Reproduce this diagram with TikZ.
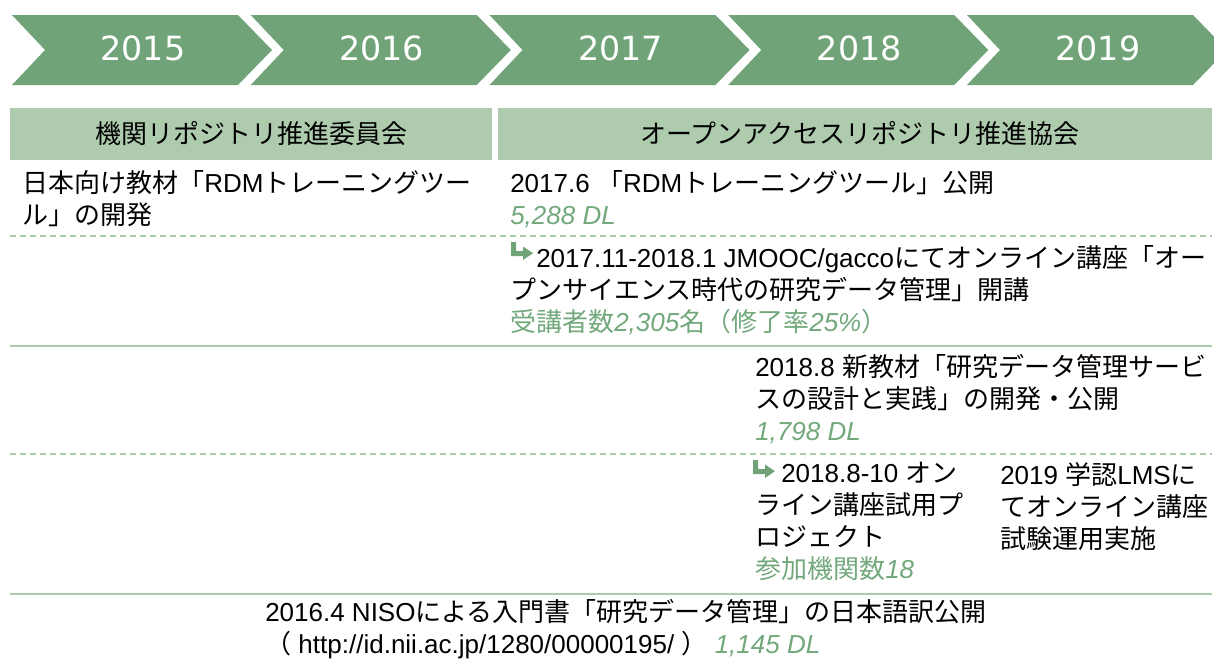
\documentclass[tikz,border=0pt]{standalone}
\usepackage{fontspec}
\setmainfont{Liberation Sans}
\newfontfamily\jpfont{Noto Sans CJK JP}
\newfontfamily\yearfont{DejaVu Sans}
\usepackage{tikz}

\definecolor{chevgreen}{HTML}{70A478}
\definecolor{headgreen}{HTML}{AECBAE}
\definecolor{notegreen}{HTML}{72A87C}
\definecolor{rulegreen}{HTML}{A9CBAB}

\newcommand\jp[1]{{\jpfont #1}}
\newcommand\dlnote[1]{{\color{notegreen}\itshape #1}}

\begin{document}
\begin{tikzpicture}[
  x = 0.75pt,
  y = -0.75pt,
  chevron/.style = {
    fill = chevgreen
  },
  year/.style = {
    text = white,
    font = \yearfont\fontsize{25}{30}\selectfont
  },
  header/.style = {
    fill = headgreen
  },
  headtext/.style = {
    font = \jpfont\fontsize{19.5}{24}\selectfont
  },
  item/.style = {
    anchor = north west,
    inner sep = 0pt,
    align = left,
    font = \fontsize{19.5}{24}\selectfont
  },
  rowline/.style = {
    rulegreen,
    line width = 1.5pt
  },
  rowdash/.style = {
    rulegreen,
    line width = 1pt,
    dash pattern = on 4.5pt off 3pt
  },
  turnicon/.pic = {
    \fill[chevgreen] (0,0) -- (5,0) -- (5,9) -- (12,9) -- (12,4.5)
      -- (22,11.2) -- (12,18) -- (12,14) -- (0,14) -- cycle;
  },
  ]
  \useasboundingbox (0,0) rectangle (1214,664);

  % Year chevrons.
  \foreach \yr [count=\i from 0] in {2015,...,2019} {
    \pgfmathsetmacro\xo{12+238.75*\i}
    \fill[chevron] (\xo,15) -- ++(226,0) -- ++(34,35) -- ++(-34,35)
      -- ++(-226,0) -- ++(33,-35) -- cycle;
    \node[year] (y\yr) at (\xo+131,48) {\yr};
  }

  % Organisation headers.
  \fill[header] (10,108) rectangle (492,160);
  \node[headtext] (hd-left) at (251,134) {機関リポジトリ推進委員会};
  \fill[header] (498,108) rectangle (1212,160);
  \node[headtext] (hd-right) at (860,134) {オープンアクセスリポジトリ推進協会};

  % Row separators.
  \draw[rowdash] (10,236) -- (1212,236);
  \draw[rowline] (10,346) -- (1212,346);
  \draw[rowdash] (10,454) -- (1212,454);
  \draw[rowline] (10,594) -- (1212,594);

  % Row 1.
  \node[item] (dev) at (22,170)
    {\jp{日本向け教材「}RDM\jp{トレーニングツー}\\\jp{ル」の開発}};
  \node[item] (pub) at (510,170)
    {2017.6 \jp{「}RDM\jp{トレーニングツール」公開}\\\dlnote{5,288 DL}};

  % Row 2.
  \node[item] (mooc) at (510,245)
    {\hspace*{19.5pt}2017.11-2018.1 JMOOC/gacco\jp{にてオンライン講座「オー}\\
     \jp{プンサイエンス時代の研究データ管理」開講}\\
     {\color{notegreen}\jp{受講者数}\itshape 2,305\upshape\jp{名（修了率}\itshape 25\%\upshape\jp{）}}};
  \pic at (511,242) {turnicon};

  % Row 3.
  \node[item] (newmat) at (755,354)
    {2018.8 \jp{新教材「研究データ管理サービ}\\\jp{スの設計と実践」の開発・公開}\\\dlnote{1,798 DL}};

  % Row 4.
  \node[item] (trial) at (755,462)
    {\hspace*{19.5pt}2018.8-10 \jp{オン}\\\jp{ライン講座試用プ}\\\jp{ロジェクト}\\
     {\color{notegreen}\jp{参加機関数}\itshape 18}};
  \pic at (753,460) {turnicon};
  \node[item] (lms) at (1000,462)
    {2019 \jp{学認}LMS\jp{に}\\\jp{てオンライン講座}\\\jp{試験運用実施}};

  % Row 5.
  \node[item] (niso) at (265,599)
    {2016.4 NISO\jp{による入門書「研究データ管理」の日本語訳公開}\\
     \jp{（} http://id.nii.ac.jp/1280/00000195/ \jp{）}\ \dlnote{1,145 DL}};
\end{tikzpicture}
\end{document}
